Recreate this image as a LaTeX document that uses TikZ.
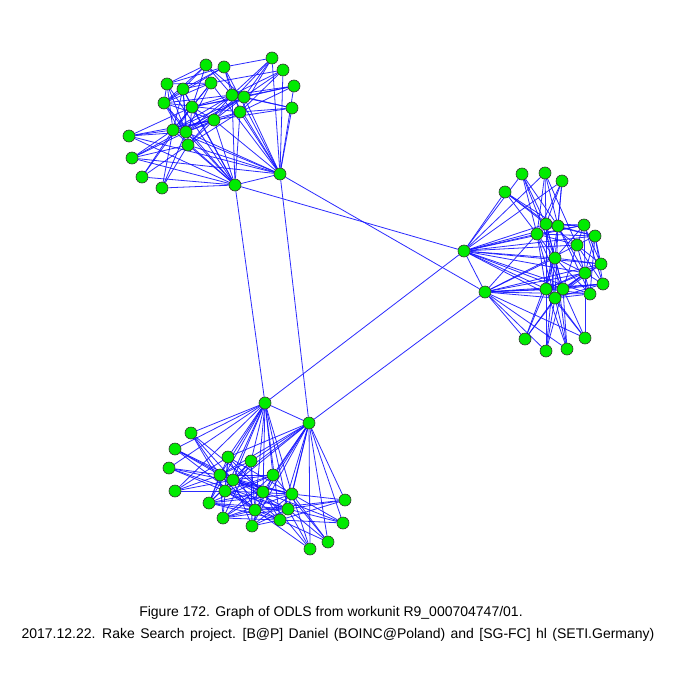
\documentclass[tikz,border=0pt]{standalone}
\usepackage{fontspec}
\setmainfont{Liberation Sans}
\usetikzlibrary{backgrounds}
\definecolor{nodegreen}{RGB}{0,235,0}
\definecolor{edgeblue}{RGB}{20,20,255}
\tikzset{
  vert/.style={circle,draw=black!80,line width=0.6pt,fill=nodegreen,minimum size=12pt,inner sep=0pt},
  link/.style={draw=edgeblue,line width=0.8pt,opacity=0.9},
  caption/.style={font=\fontsize{14}{16}\selectfont,inner sep=0pt,anchor=base}
}
\begin{document}
\begin{tikzpicture}[x=1pt,y=-1pt]
\useasboundingbox (0,0) rectangle (675,675);
% top cluster
\foreach \n/\x/\y in {t1/272/58,t2/206/65,t3/224/67,t4/283/70,t5/167/84,t6/183/89,t7/211/83,t8/294/86,
  t9/232/95,t10/244/97,t11/164/103,t12/192/107,t13/292/108,t14/240/112,t15/214/120,t16/173/130,
  t17/186/132,t18/129/136,t19/188/145,t20/132/158,t21/142/177,t22/280/174,t23/162/188,t24/235/185}
  \node[vert] (\n) at (\x,\y) {};
% right cluster
\foreach \n/\x/\y in {r1/522/174,r2/545/173,r3/562/181,r4/505/192,r5/546/224,r6/558/226,r7/584/225,r8/537/234,
  r9/595/236,r10/577/245,r11/464/251,r12/555/258,r13/601/264,r14/585/273,r15/603/284,r16/485/292,
  r17/546/289,r18/563/289,r19/590/294,r20/555/298,r21/525/339,r22/585/338,r23/546/351,r24/567/349}
  \node[vert] (\n) at (\x,\y) {};
% bottom cluster
\foreach \n/\x/\y in {b1/265/403,b2/309/423,b3/191/433,b4/175/449,b5/228/457,b6/251/461,b7/169/468,b8/220/475,
  b9/273/475,b10/233/480,b11/175/491,b12/225/491,b13/263/492,b14/292/494,b15/345/500,b16/209/503,
  b17/255/510,b18/288/509,b19/223/518,b20/280/520,b21/343/523,b22/252/526,b23/328/542,b24/310/549}
  \node[vert] (\n) at (\x,\y) {};
\begin{scope}[on background layer]
\fill[white] (0,0) rectangle (675,675);
% top cluster edges
\foreach \b in {t18,t20,t21,t23,t5,t6,t11,t12,t16,t17,t19,t9,t14,t15,t22} \draw[link] (t24) -- (\b);
\foreach \b in {t1,t4,t8,t13,t9,t10,t14,t15,t7,t3,t16,t17,t19,t20,t18} \draw[link] (t22) -- (\b);
\foreach \b in {t16,t17,t12,t15} \draw[link] (t18) -- (\b);
\foreach \b in {t16,t17,t19,t10} \draw[link] (t20) -- (\b);
\foreach \b in {t16,t19,t12} \draw[link] (t21) -- (\b);
\foreach \b in {t16,t17,t19} \draw[link] (t23) -- (\b);
\foreach \b in {t9,t10,t14,t3,t15} \draw[link] (t1) -- (\b);
\foreach \b in {t9,t10,t14,t7} \draw[link] (t4) -- (\b);
\foreach \b in {t10,t14,t9,t12} \draw[link] (t8) -- (\b);
\foreach \b in {t14,t10,t15,t9} \draw[link] (t13) -- (\b);
\foreach \b in {t5,t6,t9,t10,t11,t12} \draw[link] (t2) -- (\b);
\foreach \b in {t5,t6,t9,t14,t11} \draw[link] (t3) -- (\b);
\foreach \b in {t7,t11,t16,t17} \draw[link] (t5) -- (\b);
\foreach \b in {t7,t12,t16,t17,t19,t11} \draw[link] (t6) -- (\b);
\foreach \b in {t11,t16,t17,t12} \draw[link] (t7) -- (\b);
\foreach \b in {t11,t16,t17,t19,t12} \draw[link] (t9) -- (\b);
\foreach \b in {t12,t16,t17,t15} \draw[link] (t10) -- (\b);
\foreach \b in {t17,t19,t14} \draw[link] (t11) -- (\b);
\foreach \b in {t19,t15,t16} \draw[link] (t12) -- (\b);
\foreach \b in {t16,t17,t19} \draw[link] (t14) -- (\b);
\foreach \b in {t16,t17,t19,t11} \draw[link] (t15) -- (\b);
% right cluster edges
\foreach \b in {r1,r2,r3,r4,r5,r8,r6,r12,r7,r9,r10,r13,r14,r17,r18,r20,r19,r16} \draw[link] (r11) -- (\b);
\foreach \b in {r21,r22,r23,r24,r8,r17,r18,r20,r12,r14,r19,r15,r13,r10} \draw[link] (r16) -- (\b);
\foreach \b in {r5,r6,r8,r12} \draw[link] (r1) -- (\b);
\foreach \b in {r5,r6,r8,r10} \draw[link] (r2) -- (\b);
\foreach \b in {r5,r8,r12,r6} \draw[link] (r3) -- (\b);
\foreach \b in {r8,r6,r5,r10} \draw[link] (r4) -- (\b);
\foreach \b in {r17,r20,r18,r12} \draw[link] (r21) -- (\b);
\foreach \b in {r20,r17,r18,r14} \draw[link] (r22) -- (\b);
\foreach \b in {r17,r20,r18,r12} \draw[link] (r23) -- (\b);
\foreach \b in {r17,r20,r12,r18} \draw[link] (r24) -- (\b);
\foreach \b in {r7,r9,r17,r18,r20,r12} \draw[link] (r5) -- (\b);
\foreach \b in {r7,r9,r17,r20,r14,r19} \draw[link] (r6) -- (\b);
\foreach \b in {r7,r10,r17,r18,r20,r12,r9} \draw[link] (r8) -- (\b);
\foreach \b in {r13,r14,r15,r10,r12} \draw[link] (r7) -- (\b);
\foreach \b in {r13,r14,r15,r10,r19} \draw[link] (r9) -- (\b);
\foreach \b in {r13,r15,r18,r19} \draw[link] (r10) -- (\b);
\foreach \b in {r13,r14,r18,r19,r17} \draw[link] (r12) -- (\b);
\foreach \b in {r17,r18,r20} \draw[link] (r13) -- (\b);
\foreach \b in {r17,r18,r20,r15} \draw[link] (r14) -- (\b);
\foreach \b in {r17,r20,r18} \draw[link] (r15) -- (\b);
\foreach \b in {r17,r20} \draw[link] (r19) -- (\b);
% bottom cluster edges
\foreach \b in {b3,b4,b7,b11,b5,b6,b8,b10,b12,b13,b9,b14,b17,b18,b20,b16,b2} \draw[link] (b1) -- (\b);
\foreach \b in {b15,b21,b23,b24,b9,b6,b13,b14,b18,b20,b10,b8,b5,b12,b17,b22} \draw[link] (b2) -- (\b);
\foreach \b in {b8,b10,b12,b13} \draw[link] (b3) -- (\b);
\foreach \b in {b8,b10,b13,b17} \draw[link] (b4) -- (\b);
\foreach \b in {b8,b12,b14,b18} \draw[link] (b7) -- (\b);
\foreach \b in {b5,b8,b10,b12} \draw[link] (b11) -- (\b);
\foreach \b in {b14,b18,b20,b17} \draw[link] (b15) -- (\b);
\foreach \b in {b14,b18,b20,b13} \draw[link] (b21) -- (\b);
\foreach \b in {b14,b18,b20,b9} \draw[link] (b23) -- (\b);
\foreach \b in {b14,b18,b13,b17} \draw[link] (b24) -- (\b);
\foreach \b in {b12,b13,b16,b19,b17,b14} \draw[link] (b5) -- (\b);
\foreach \b in {b12,b16,b19,b17,b22,b8} \draw[link] (b6) -- (\b);
\foreach \b in {b9,b13,b14,b16,b19,b17} \draw[link] (b8) -- (\b);
\foreach \b in {b10,b12,b16,b19,b22} \draw[link] (b9) -- (\b);
\foreach \b in {b13,b14,b18,b20,b16,b22} \draw[link] (b10) -- (\b);
\foreach \b in {b14,b18,b20,b17} \draw[link] (b12) -- (\b);
\foreach \b in {b16,b19,b22,b20} \draw[link] (b13) -- (\b);
\foreach \b in {b16,b19,b22} \draw[link] (b14) -- (\b);
\foreach \b in {b17,b18,b20} \draw[link] (b16) -- (\b);
\foreach \b in {b18,b19,b20} \draw[link] (b17) -- (\b);
\foreach \b in {b19,b22} \draw[link] (b18) -- (\b);
\draw[link] (b19) -- (b20);
\draw[link] (b20) -- (b22);
% inter-cluster edges
\draw[link] (t24) -- (b1);
\draw[link] (t22) -- (b2);
\draw[link] (t24) -- (r11);
\draw[link] (t22) -- (r16);
\draw[link] (b1) -- (r11);
\draw[link] (b2) -- (r16);
\end{scope}
% caption
\node[caption] (cap1) at (331,616) {Figure 172. Graph of ODLS from workunit R9\_000704747/01.};
\node[caption] (cap2) at (338,638) {\spaceskip=5.4pt 2017.12.22. Rake Search project. [B@P] Daniel (BOINC@Poland) and [SG-FC] hl (SETI.Germany)};
\end{tikzpicture}
\end{document}
